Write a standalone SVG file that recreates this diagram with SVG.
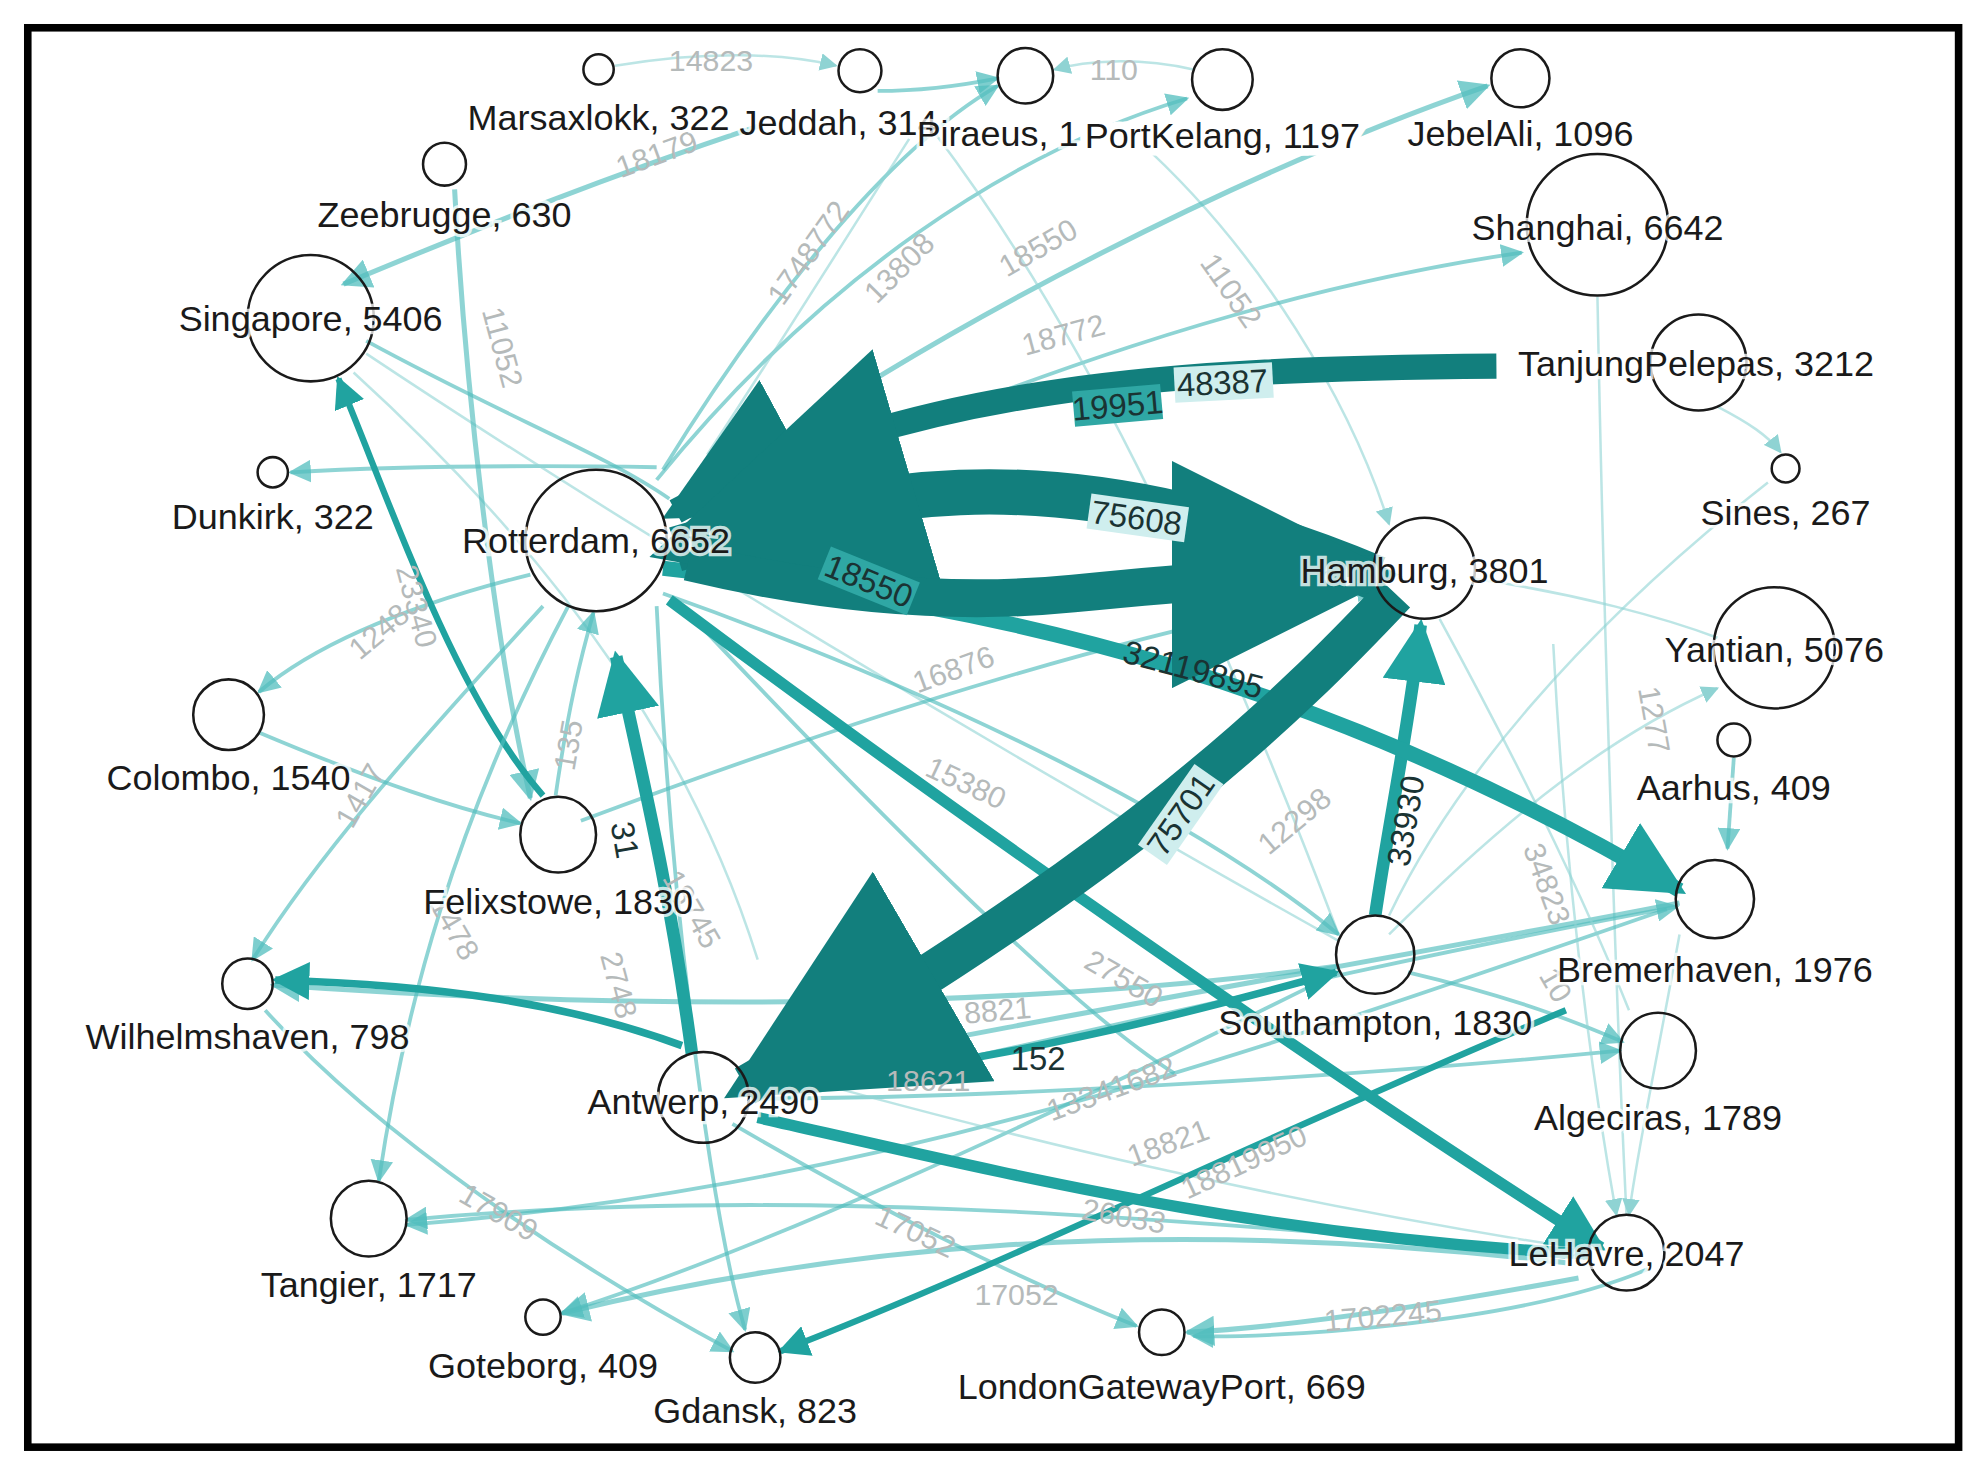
<svg xmlns="http://www.w3.org/2000/svg" width="1980" height="1477" viewBox="0 0 1980 1477">
<style>
.n circle{fill:none;stroke:#1a1a1a;stroke-width:2}
.n text{font-family:"Liberation Sans",Arial,sans-serif;font-size:28.5px;fill:#1a1a1a;text-anchor:middle;dominant-baseline:central;paint-order:stroke;stroke:#fff;stroke-opacity:.75;stroke-width:5px}
.d{fill:none;stroke:#127f7d}
.m{fill:none;stroke:#20a3a0}
.l{fill:none;stroke:#52bdbd;stroke-opacity:.65}
.t{fill:none;stroke:#8fd3d3;stroke-opacity:.6}
.el{font-family:"Liberation Sans",Arial,sans-serif;font-size:24px;fill:#b5baba;text-anchor:middle;dominant-baseline:central}
.dl{font-family:"Liberation Sans",Arial,sans-serif;font-size:26px;fill:#1a3333;text-anchor:middle;dominant-baseline:central}
</style>
<defs>
<marker id="ad" viewBox="0 0 10 10" refX="9" refY="5" markerWidth="6" markerHeight="6" orient="auto" markerUnits="strokeWidth"><path d="M0,0L10,5L0,10z" fill="#127f7d"/></marker>
<marker id="am" viewBox="0 0 10 10" refX="9" refY="5" markerWidth="5" markerHeight="5" orient="auto" markerUnits="strokeWidth"><path d="M0,0L10,5L0,10z" fill="#20a3a0"/></marker>
<marker id="al" viewBox="0 0 10 10" refX="9" refY="5" markerWidth="6" markerHeight="6" orient="auto" markerUnits="strokeWidth"><path d="M0,0L10,5L0,10z" fill="#52bdbd" fill-opacity=".75"/></marker>
<marker id="at" viewBox="0 0 10 10" refX="9" refY="5" markerWidth="7" markerHeight="7" orient="auto" markerUnits="strokeWidth"><path d="M0,0L10,5L0,10z" fill="#8fd3d3"/></marker>
</defs>
<rect x="0" y="0" width="1980" height="1477" fill="#fff"/>
<g transform="scale(1.2628)">
<rect x="22" y="22" width="1529" height="1124" fill="#fff" stroke="#000" stroke-width="6"/>
<g id="connectors">
<path class="t" stroke-width="2" marker-end="url(#at)" d="M487,52 C560,40 620,42 662,52"/>
<path class="l" stroke-width="3" marker-end="url(#al)" d="M695,72 C730,72 760,68 790,62"/>
<path class="t" stroke-width="2" marker-end="url(#at)" d="M945,55 C900,45 860,48 835,55"/>
<path class="t" stroke-width="2" marker-end="url(#at)" d="M1360,322 C1385,335 1400,345 1410,358"/>
<path class="t" stroke-width="2" d="M1265,235 C1270,500 1280,800 1288,962"/>
<path class="t" stroke-width="2" marker-end="url(#at)" d="M900,110 C1000,200 1070,320 1100,415"/>
<path class="t" stroke-width="2" d="M1400,382 C1250,500 1150,620 1100,725"/>
<path class="t" stroke-width="2" d="M1165,458 C1250,470 1320,490 1360,505"/>
<path class="t" stroke-width="2" marker-end="url(#at)" d="M1100,740 C1200,640 1280,580 1360,545"/>
<path class="l" stroke-width="3" marker-end="url(#al)" d="M1373,600 L1368,672"/>
<path class="l" stroke-width="3" marker-end="url(#al)" d="M520,380 C650,220 800,120 940,78"/>
<path class="l" stroke-width="4" marker-end="url(#al)" d="M550,395 C750,250 1000,130 1178,68"/>
<path class="l" stroke-width="3" marker-end="url(#al)" d="M560,405 C800,300 1000,230 1205,200"/>
<path class="l" stroke-width="3" marker-end="url(#al)" d="M525,372 C600,250 700,120 790,68"/>
<path class="t" stroke-width="2" d="M720,110 C650,220 600,300 560,360"/>
<path class="t" stroke-width="2" d="M740,105 C850,250 950,450 1060,740"/>
<path class="l" stroke-width="4" marker-end="url(#al)" d="M600,100 C480,140 380,180 272,225"/>
<path class="l" stroke-width="3" marker-end="url(#al)" d="M520,370 C400,368 300,370 230,374"/>
<path class="l" stroke-width="3" marker-end="url(#al)" d="M420,455 C320,480 250,510 205,548"/>
<path class="l" stroke-width="3" d="M290,270 C400,330 480,360 530,395"/>
<path class="t" stroke-width="2" d="M290,280 C500,420 800,600 1060,745"/>
<path class="t" stroke-width="2" d="M280,295 C450,450 550,600 600,760"/>
<path class="l" stroke-width="4" marker-end="url(#al)" d="M360,150 C368,300 390,500 420,632"/>
<path class="m" stroke-width="5" marker-end="url(#am)" d="M430,630 C360,550 310,400 268,300"/>
<path class="l" stroke-width="3" marker-end="url(#al)" d="M205,580 C300,620 360,640 412,652"/>
<path class="l" stroke-width="3" marker-end="url(#al)" d="M440,630 C450,560 460,520 470,485"/>
<path class="l" stroke-width="3" marker-end="url(#al)" d="M460,650 C700,560 900,500 1090,465"/>
<path class="l" stroke-width="3" marker-end="url(#al)" d="M525,470 C750,550 950,650 1060,740"/>
<path class="l" stroke-width="3" marker-end="url(#al)" d="M450,480 C360,650 320,800 300,935"/>
<path class="l" stroke-width="3" marker-end="url(#al)" d="M430,480 C320,600 250,680 200,760"/>
<path class="l" stroke-width="3" marker-end="url(#al)" d="M210,800 C300,900 450,1000 580,1070"/>
<path class="l" stroke-width="3" marker-end="url(#al)" d="M1255,995 C900,960 600,940 322,966"/>
<path class="l" stroke-width="4" marker-end="url(#al)" d="M1240,1000 C900,960 650,990 445,1040"/>
<path class="l" stroke-width="4" marker-end="url(#al)" d="M1250,1012 C1100,1040 1000,1052 940,1055"/>
<path class="l" stroke-width="3" marker-end="url(#al)" d="M580,890 C700,960 800,1010 900,1050"/>
<path class="l" stroke-width="3" marker-end="url(#al)" d="M520,480 C530,700 560,950 590,1053"/>
<path class="l" stroke-width="4" d="M1330,715 C1100,760 800,810 590,855"/>
<path class="l" stroke-width="3" marker-end="url(#al)" d="M595,870 C800,870 1100,850 1283,832"/>
<path class="l" stroke-width="4" marker-end="url(#al)" d="M1060,765 C800,800 500,800 216,780"/>
<path class="l" stroke-width="3" marker-end="url(#al)" d="M1060,770 C800,900 600,990 445,1040"/>
<path class="l" stroke-width="3" marker-end="url(#al)" d="M1320,720 C1000,830 700,940 322,970"/>
<path class="l" stroke-width="3" marker-end="url(#al)" d="M620,870 C850,820 1100,760 1328,718"/>
<path class="l" stroke-width="3" marker-end="url(#al)" d="M1115,770 C1200,790 1250,810 1285,825"/>
<path class="t" stroke-width="2" marker-end="url(#at)" d="M1230,510 C1240,700 1260,850 1280,962"/>
<path class="t" stroke-width="2" marker-end="url(#at)" d="M1330,740 C1310,850 1295,920 1290,962"/>
<path class="t" stroke-width="2" d="M1140,490 C1200,600 1250,700 1290,800"/>
<path class="t" stroke-width="2" marker-end="url(#at)" d="M620,850 C800,900 1000,950 1258,990"/>
<path class="l" stroke-width="3" d="M540,480 C700,650 850,800 930,850"/>
<path class="l" stroke-width="3" marker-end="url(#al)" d="M1305,1005 C1200,1050 1000,1060 945,1058"/>
<path class="m" stroke-width="5" marker-end="url(#am)" d="M1240,800 C1000,900 800,1000 618,1070"/>
<path class="m" stroke-width="6" marker-end="url(#am)" d="M620,860 C800,840 950,800 1058,770"/>
<path class="m" stroke-width="6" marker-end="url(#am)" d="M540,828 C450,795 350,780 218,776"/>
<path class="m" stroke-width="9" marker-end="url(#am)" d="M530,475 C750,640 1050,850 1268,988"/>
<path class="m" stroke-width="9" d="M600,885 C800,930 1000,980 1258,993"/>
<path class="m" stroke-width="10" marker-end="url(#am)" d="M548,835 C530,700 505,600 488,520"/>
<path class="m" stroke-width="10" marker-end="url(#am)" d="M1089,725 C1100,650 1115,580 1125,495"/>
<path class="m" stroke-width="12" marker-end="url(#am)" d="M525,450 C800,480 1050,540 1330,705"/>
<path class="d" stroke-width="20" marker-end="url(#ad)" d="M1185,290 C930,292 720,305 535,405"/>
<path class="d" stroke-width="36" marker-end="url(#ad)" d="M1090,458 C1000,420 880,385 760,390 C680,393 620,410 535,435"/>
<path class="d" stroke-width="30" marker-end="url(#ad)" d="M545,445 C650,470 750,480 850,470 C950,460 1020,455 1090,455"/>
<path class="d" stroke-width="32" marker-end="url(#ad)" d="M1105,470 C1020,560 900,680 590,860"/>
</g>
<g id="edge-labels">
<text class="el" x="563" y="48">14823</text>
<text class="el" x="520" y="122" transform="rotate(-20 520 122)">18179</text>
<text class="el" x="398" y="275" transform="rotate(75 398 275)">11052</text>
<text class="el" x="640" y="200" transform="rotate(-55 640 200)">1748772</text>
<text class="el" x="712" y="212" transform="rotate(-45 712 212)">13808</text>
<text class="el" x="822" y="196" transform="rotate(-30 822 196)">18550</text>
<text class="el" x="842" y="265" transform="rotate(-15 842 265)">18772</text>
<text class="el" x="975" y="230" transform="rotate(55 975 230)">11052</text>
<text class="el" x="882" y="55">110</text>
<text class="el" x="755" y="530" transform="rotate(-20 755 530)">16876</text>
<text class="el" x="765" y="620" transform="rotate(25 765 620)">15380</text>
<text class="el" x="1025" y="650" transform="rotate(-40 1025 650)">12298</text>
<text class="el" x="548" y="720" transform="rotate(60 548 720)">18745</text>
<text class="el" x="490" y="780" transform="rotate(75 490 780)">2748</text>
<text class="el" x="395" y="960" transform="rotate(30 395 960)">17909</text>
<text class="el" x="725" y="975" transform="rotate(25 725 975)">17052</text>
<text class="el" x="805" y="1025">17052</text>
<text class="el" x="1095" y="1042" transform="rotate(-5 1095 1042)">1702245</text>
<text class="el" x="925" y="905" transform="rotate(-20 925 905)">18821</text>
<text class="el" x="880" y="862" transform="rotate(-20 880 862)">13341682</text>
<text class="el" x="790" y="800" transform="rotate(-5 790 800)">8821</text>
<text class="el" x="985" y="920" transform="rotate(-25 985 920)">18819950</text>
<text class="el" x="735" y="856">18621</text>
<text class="el" x="285" y="630" transform="rotate(-60 285 630)">1417</text>
<text class="el" x="300" y="500" transform="rotate(-40 300 500)">1248</text>
<text class="el" x="360" y="735" transform="rotate(60 360 735)">1478</text>
<text class="el" x="1225" y="700" transform="rotate(70 1225 700)">34823</text>
<text class="el" x="1310" y="570" transform="rotate(80 1310 570)">1277</text>
<text class="el" x="330" y="480" transform="rotate(75 330 480)">23340</text>
<text class="el" x="890" y="775" transform="rotate(30 890 775)">27550</text>
<text class="el" x="890" y="963" transform="rotate(10 890 963)">26033</text>
<text class="el" x="1232" y="780" transform="rotate(60 1232 780)">10</text>
<text class="el" x="450" y="590" transform="rotate(-80 450 590)">135</text>
<rect x="930" y="289" width="78" height="28" fill="#cfeeee" transform="rotate(-3 968 303)"/>
<text class="dl" x="968" y="303" transform="rotate(-3 968 303)">48387</text>
<rect x="850" y="307" width="70" height="28" fill="#2fa7a4" transform="rotate(-5 885 321)"/>
<text class="dl" x="885" y="321" transform="rotate(-5 885 321)" fill="#147775">19951</text>
<rect x="862" y="396" width="78" height="28" fill="#cfeeee" transform="rotate(8 900 410)"/>
<text class="dl" x="900" y="410" transform="rotate(8 900 410)">75608</text>
<rect x="896" y="631" width="78" height="28" fill="#cfeeee" transform="rotate(-55 935 645)"/>
<text class="dl" x="935" y="645" transform="rotate(-55 935 645)">75701</text>
<rect x="650" y="446" width="76" height="28" fill="#2fa7a4" transform="rotate(22 688 460)"/>
<text class="dl" x="688" y="460" transform="rotate(22 688 460)" fill="#147775">18550</text>
<text class="dl" x="1113" y="650" transform="rotate(-80 1113 650)" fill="#4a5a5a">33930</text>
<text class="dl" x="495" y="665" transform="rotate(80 495 665)" fill="#4a5a5a">31</text>
<text class="dl" x="945" y="530" transform="rotate(15 945 530)" fill="#3a5858">32119895</text>
<text class="dl" x="822" y="838" fill="#3a5858">152</text>
</g>
<g id="n-marsaxlokk" class="n"><circle cx="474" cy="55" r="12"/><text x="474" y="93">Marsaxlokk, 322</text></g>
<g id="n-jeddah" class="n"><circle cx="681" cy="56" r="17"/><text x="664" y="97">Jeddah, 314</text></g>
<g id="n-piraeus" class="n"><circle cx="812" cy="60" r="22"/><text x="790" y="106">Piraeus, 1</text></g>
<g id="n-portkelang" class="n"><circle cx="968" cy="63" r="24"/><text x="968" y="107" style="stroke-width:12px;stroke-opacity:1">PortKelang, 1197</text></g>
<g id="n-jebelali" class="n"><circle cx="1204" cy="62" r="23"/><text x="1204" y="106">JebelAli, 1096</text></g>
<g id="n-shanghai" class="n"><circle cx="1265" cy="178" r="56"/><text x="1265" y="180">Shanghai, 6642</text></g>
<g id="n-tanjungpelepas" class="n"><circle cx="1345" cy="287" r="38"/><text x="1343" y="288">TanjungPelepas, 3212</text></g>
<g id="n-sines" class="n"><circle cx="1414" cy="371" r="11"/><text x="1414" y="406">Sines, 267</text></g>
<g id="n-hamburg" class="n"><circle cx="1128" cy="450" r="40"/><text x="1128" y="452">Hamburg, 3801</text></g>
<g id="n-yantian" class="n"><circle cx="1405" cy="513" r="48"/><text x="1405" y="514">Yantian, 5076</text></g>
<g id="n-aarhus" class="n"><circle cx="1373" cy="586" r="13"/><text x="1373" y="624">Aarhus, 409</text></g>
<g id="n-bremerhaven" class="n"><circle cx="1358" cy="712" r="31"/><text x="1358" y="768">Bremerhaven, 1976</text></g>
<g id="n-algeciras" class="n"><circle cx="1313" cy="832" r="30"/><text x="1313" y="885">Algeciras, 1789</text></g>
<g id="n-lehavre" class="n"><circle cx="1288" cy="992" r="30"/><text x="1288" y="993">LeHavre, 2047</text></g>
<g id="n-londongateway" class="n"><circle cx="920" cy="1055" r="18"/><text x="920" y="1098">LondonGatewayPort, 669</text></g>
<g id="n-southampton" class="n"><circle cx="1089" cy="756" r="31"/><text x="1089" y="810">Southampton, 1830</text></g>
<g id="n-antwerp" class="n"><circle cx="557" cy="869" r="36"/><text x="557" y="872">Antwerp, 2490</text></g>
<g id="n-gdansk" class="n"><circle cx="598" cy="1075" r="20"/><text x="598" y="1117">Gdansk, 823</text></g>
<g id="n-goteborg" class="n"><circle cx="430" cy="1043" r="14"/><text x="430" y="1081">Goteborg, 409</text></g>
<g id="n-tangier" class="n"><circle cx="292" cy="965" r="30"/><text x="292" y="1017">Tangier, 1717</text></g>
<g id="n-wilhelmshaven" class="n"><circle cx="196" cy="779" r="20"/><text x="196" y="821">Wilhelmshaven, 798</text></g>
<g id="n-felixstowe" class="n"><circle cx="442" cy="661" r="30"/><text x="442" y="714">Felixstowe, 1830</text></g>
<g id="n-colombo" class="n"><circle cx="181" cy="566" r="28"/><text x="181" y="616">Colombo, 1540</text></g>
<g id="n-rotterdam" class="n"><circle cx="472" cy="428" r="56"/><text x="472" y="428">Rotterdam, 6652</text></g>
<g id="n-dunkirk" class="n"><circle cx="216" cy="374" r="12"/><text x="216" y="409">Dunkirk, 322</text></g>
<g id="n-singapore" class="n"><circle cx="246" cy="252" r="50"/><text x="246" y="252">Singapore, 5406</text></g>
<g id="n-zeebrugge" class="n"><circle cx="352" cy="130" r="17"/><text x="352" y="170">Zeebrugge, 630</text></g>
</g>
</svg>
